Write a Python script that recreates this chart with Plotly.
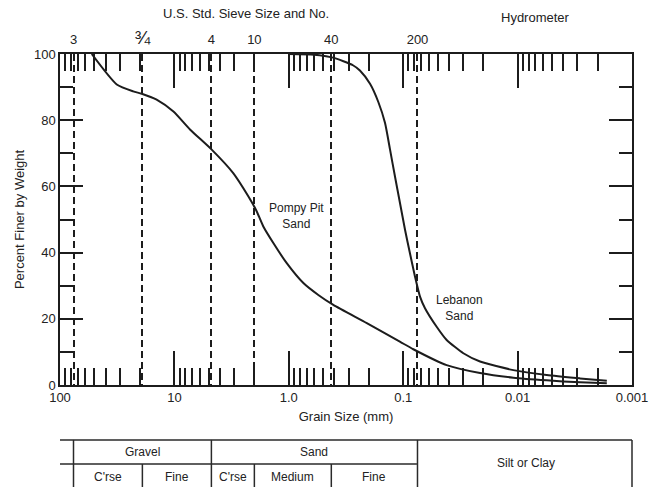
import math
import plotly.graph_objects as go

# ---- data ----
sieve_mm = [76.2, 19.05, 4.75, 2.0, 0.425, 0.075]
sieve_labels = ["3", "<span style='font-size:19px'>¾</span>", "4", "10", "40", "200"]

x_tick_vals = [100, 10, 1, 0.1, 0.01, 0.001]
x_tick_text = ["100", "10", "1.0", "0.1", "0.01", "0.001"]

pompy_mm = [52.8, 31.9, 22.9, 19.3, 14.3, 10.2, 7.31, 4.72, 3.06, 2.26, 1.91, 1.67,
            1.365, 1.042, 0.746, 0.552, 0.408, 0.208, 0.107, 0.0816, 0.0417, 0.0213,
            0.0109, 0.00557, 0.00285, 0.00166]
pompy_pct = [100, 90.8, 88.7, 88.0, 86.2, 82.6, 77.2, 71.1, 64.0, 57.0, 52.5, 47.9,
             42.9, 36.8, 30.8, 27.2, 24.2, 18.7, 13.1, 10.8, 6.0, 3.6,
             2.2, 1.4, 0.8, 0.5]

lebanon_mm = [1.0, 0.6, 0.411, 0.275, 0.239, 0.195, 0.165, 0.1443, 0.1303, 0.118,
              0.1067, 0.0964, 0.0873, 0.0789, 0.0713, 0.0645, 0.0510, 0.0417,
              0.0298, 0.0213, 0.0109, 0.00557, 0.00285, 0.00166]
lebanon_pct = [100, 99.8, 98.9, 96.6, 95.0, 91.0, 85.5, 79.2, 71.1, 63.0,
               55.0, 46.9, 39.8, 32.8, 26.7, 23.2, 17.6, 13.6,
               9.6, 7.1, 4.5, 3.0, 2.0, 1.3]

# soil classification table: (label, coarse bound index, fine bound index) in sieve_mm
main_groups = [("Gravel", 0, 2), ("Sand", 2, 5)]
sub_groups = [("C'rse", 0, 1), ("Fine", 1, 2), ("C'rse", 2, 3), ("Medium", 3, 4), ("Fine", 4, 5)]
silt_label = "Silt or Clay"

INK = "#1c1c1c"
FONT = "Liberation Sans, Arial, sans-serif"

fig = go.Figure()
fig.add_trace(go.Scatter(x=pompy_mm, y=pompy_pct, mode="lines",
                         line=dict(color=INK, width=2, shape="spline", smoothing=0.6),
                         showlegend=False, hoverinfo="skip"))
fig.add_trace(go.Scatter(x=lebanon_mm, y=lebanon_pct, mode="lines",
                         line=dict(color=INK, width=2, shape="spline", smoothing=0.6),
                         showlegend=False, hoverinfo="skip"))
# anchor trace for the sieve axis (no visible marks)
fig.add_trace(go.Scatter(x=sieve_mm, y=[None] * len(sieve_mm), xaxis="x2",
                         mode="lines", showlegend=False, hoverinfo="skip"))

minor_vals = [m * 10 ** e for e in range(-3, 2) for m in range(2, 10)]

fig.update_layout(
    width=649, height=487,
    margin=dict(l=60, r=17, t=54, b=102),
    paper_bgcolor="white", plot_bgcolor="white",
    font=dict(family=FONT, size=13, color="#222"),
    xaxis=dict(
        type="log", range=[2, -3], automargin=False,
        tickmode="array", tickvals=x_tick_vals, ticktext=x_tick_text,
        ticks="inside", ticklen=34, tickwidth=1.5, tickcolor=INK,
        minor=dict(tickmode="array", tickvals=minor_vals, ticks="inside",
                   ticklen=17, tickwidth=1.5, tickcolor=INK, showgrid=False),
        showline=True, linecolor=INK, linewidth=1.5, mirror="ticks",
        showgrid=False, zeroline=False,
        title=dict(text="Grain Size (mm)", font=dict(size=13), standoff=8),
        tickfont=dict(size=13),
    ),
    xaxis2=dict(
        type="log", range=[2, -3], overlaying="x", side="top", anchor="y",
        automargin=False,
        tickmode="array", tickvals=sieve_mm, ticktext=sieve_labels,
        ticks="outside", ticklen=4, tickcolor="rgba(0,0,0,0)",
        showline=False, zeroline=False,
        showgrid=True, griddash="7px,4px", gridcolor=INK, gridwidth=1.6,
        tickfont=dict(size=13),
    ),
    yaxis=dict(
        range=[0, 100], tickmode="linear", tick0=0, dtick=20, automargin=False,
        ticks="inside", ticklen=23, tickwidth=1.5, tickcolor=INK,
        minor=dict(dtick=10, ticks="inside", ticklen=13, tickwidth=1.5, tickcolor=INK,
                   showgrid=False),
        showline=True, linecolor=INK, linewidth=1.5, mirror="ticks",
        showgrid=False, zeroline=False,
        title=dict(text="Percent Finer by Weight", font=dict(size=13), standoff=6),
        tickfont=dict(size=13),
    ),
)

ann = dict(showarrow=False, xanchor="center", yanchor="middle")

# top texts
fig.add_annotation(text="U.S. Std. Sieve Size and No.", xref="paper", yref="paper",
                   x=0.325, y=1.121, font=dict(size=13), **ann)
fig.add_annotation(text="Hydrometer", xref="paper", yref="paper",
                   x=0.832, y=1.109, font=dict(size=13), **ann)

# curve labels
fig.add_annotation(text="Pompy Pit<br>Sand", xref="paper", yref="paper",
                   x=0.414, y=0.511, font=dict(size=12), **ann)
fig.add_annotation(text="Lebanon<br>Sand", xref="paper", yref="paper",
                   x=0.698, y=0.233, font=dict(size=12), **ann)

# ---- classification table ----
T_TOP, T_MID, T_BOT = -0.166, -0.2387, -0.31
line = dict(color="#2a2a2a", width=1.5)
fig.add_shape(type="line", xref="paper", yref="paper", x0=0, x1=1, y0=T_TOP, y1=T_TOP, line=line)
fig.add_shape(type="line", xref="paper", yref="paper", x0=0, x1=0.624, y0=T_MID, y1=T_MID, line=line)
for d in [sieve_mm[0], sieve_mm[2], sieve_mm[5]]:
    fig.add_shape(type="line", xref="x", yref="paper", x0=d, x1=d, y0=T_TOP, y1=T_BOT, line=line)
fig.add_shape(type="line", xref="paper", yref="paper", x0=1, x1=1, y0=T_TOP, y1=T_BOT, line=line)
for d in [sieve_mm[1], sieve_mm[3], sieve_mm[4]]:
    fig.add_shape(type="line", xref="x", yref="paper", x0=d, x1=d, y0=T_MID, y1=T_BOT, line=line)


def mid_log(a, b):
    return (math.log10(a) + math.log10(b)) / 2


for name, i, j in main_groups:
    fig.add_annotation(text=name, xref="x", yref="paper", x=mid_log(sieve_mm[i], sieve_mm[j]),
                       y=-0.2025, font=dict(size=12), **ann)
for name, i, j in sub_groups:
    fig.add_annotation(text=name, xref="x", yref="paper", x=mid_log(sieve_mm[i], sieve_mm[j]),
                       y=-0.277, font=dict(size=12), **ann)
fig.add_annotation(text=silt_label, xref="paper", yref="paper", x=0.815, y=-0.237,
                   font=dict(size=12), **ann)

fig.write_html("out.html")
